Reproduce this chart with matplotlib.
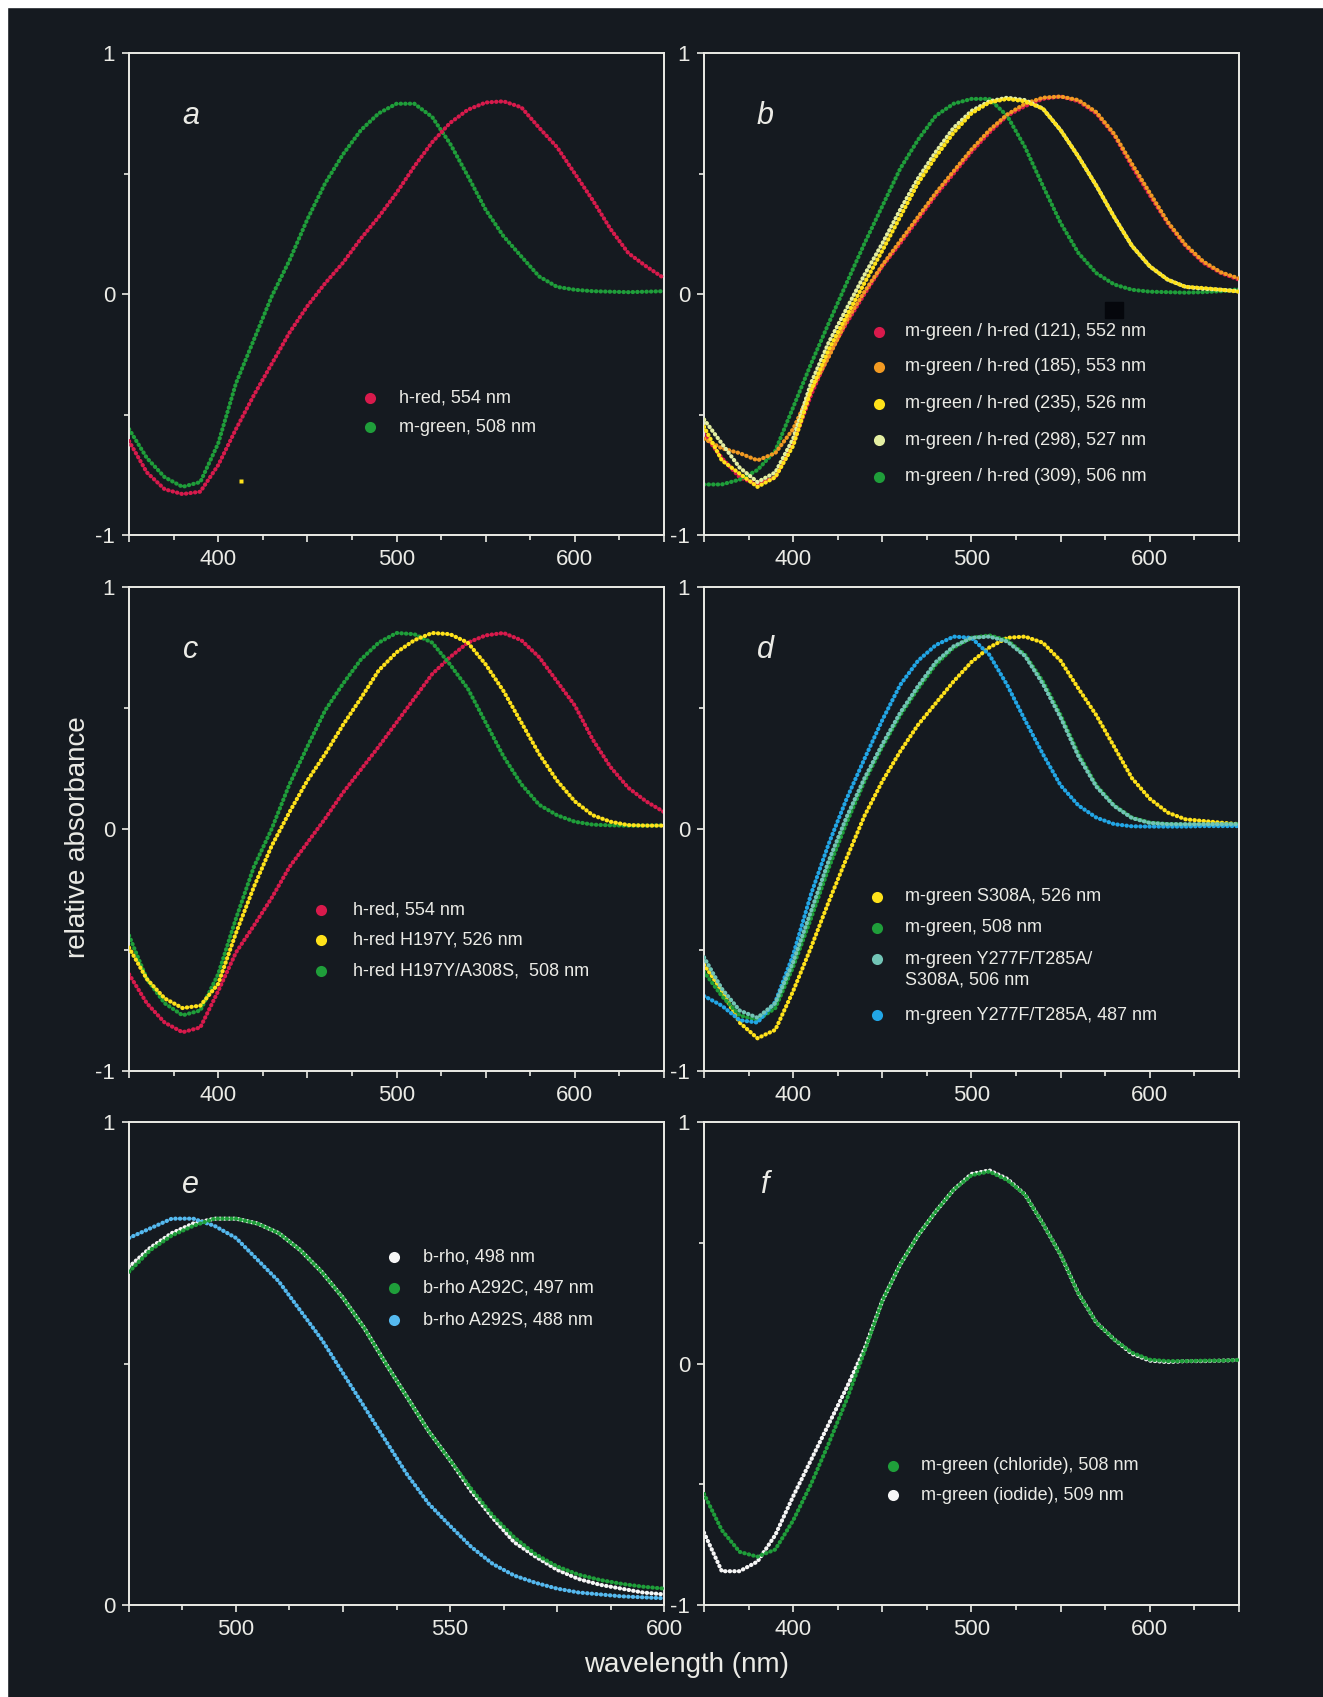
import numpy as np
import matplotlib.pyplot as plt
from matplotlib.patches import Rectangle

plt.rcParams['font.family']=['Liberation Sans','DejaVu Sans']

# wavelength grids (nm)
wl=np.arange(350,651,10)
wl_e=np.arange(475,601,5)

# panel a
a_hred=[-0.61,-0.74,-0.81,-0.83,-0.82,-0.71,-0.56,-0.42,-0.29,-0.16,-0.05,0.045,0.13,0.23,0.32,0.42,0.53,0.63,0.71,0.765,0.795,0.80,0.775,0.69,0.61,0.50,0.39,0.27,0.17,0.115,0.066]
a_mgreen=[-0.56,-0.68,-0.76,-0.80,-0.78,-0.62,-0.37,-0.19,-0.01,0.14,0.31,0.46,0.58,0.68,0.75,0.79,0.79,0.735,0.625,0.49,0.35,0.24,0.156,0.073,0.03,0.018,0.012,0.01,0.008,0.01,0.012]

# panel b
b_121=[-0.58,-0.68,-0.76,-0.79,-0.76,-0.62,-0.42,-0.25,-0.12,0.0,0.115,0.21,0.31,0.41,0.50,0.59,0.67,0.74,0.78,0.81,0.82,0.80,0.75,0.66,0.53,0.41,0.295,0.20,0.13,0.087,0.06]
b_185=[-0.60,-0.64,-0.66,-0.69,-0.66,-0.56,-0.40,-0.26,-0.11,0.01,0.12,0.22,0.32,0.42,0.51,0.60,0.68,0.745,0.79,0.815,0.82,0.805,0.755,0.665,0.54,0.42,0.30,0.205,0.135,0.09,0.065]
b_235=[-0.55,-0.69,-0.745,-0.80,-0.76,-0.63,-0.40,-0.23,-0.09,0.046,0.18,0.32,0.46,0.57,0.67,0.75,0.795,0.81,0.80,0.77,0.68,0.57,0.45,0.32,0.20,0.115,0.06,0.03,0.025,0.018,0.01]
b_298=[-0.52,-0.62,-0.72,-0.78,-0.74,-0.60,-0.37,-0.20,-0.06,0.08,0.21,0.35,0.48,0.59,0.69,0.76,0.80,0.815,0.805,0.77,0.68,0.57,0.45,0.32,0.20,0.115,0.06,0.03,0.022,0.018,0.012]
b_309=[-0.79,-0.79,-0.77,-0.73,-0.65,-0.47,-0.29,-0.12,0.046,0.21,0.365,0.52,0.64,0.74,0.79,0.81,0.81,0.74,0.61,0.45,0.295,0.17,0.087,0.04,0.018,0.01,0.008,0.006,0.008,0.012,0.02]

# panel c
c_hred=[-0.60,-0.72,-0.80,-0.84,-0.82,-0.67,-0.51,-0.40,-0.285,-0.157,-0.057,0.043,0.15,0.245,0.34,0.44,0.54,0.64,0.71,0.77,0.80,0.81,0.78,0.71,0.61,0.51,0.37,0.256,0.17,0.114,0.07]
c_h197y=[-0.49,-0.62,-0.70,-0.74,-0.73,-0.64,-0.43,-0.24,-0.07,0.07,0.20,0.31,0.43,0.54,0.655,0.73,0.78,0.81,0.805,0.77,0.68,0.57,0.44,0.31,0.20,0.114,0.057,0.03,0.016,0.014,0.014]
c_a308s=[-0.44,-0.62,-0.72,-0.77,-0.75,-0.60,-0.37,-0.157,0.0,0.185,0.34,0.49,0.60,0.70,0.77,0.81,0.805,0.77,0.68,0.58,0.44,0.30,0.185,0.10,0.057,0.03,0.018,0.015,0.014,0.014,0.015]

# panel d
d_s308a=[-0.56,-0.67,-0.80,-0.865,-0.83,-0.67,-0.49,-0.30,-0.12,0.054,0.197,0.32,0.43,0.52,0.61,0.69,0.75,0.79,0.795,0.77,0.695,0.58,0.47,0.34,0.21,0.125,0.068,0.04,0.033,0.026,0.02]
d_mgreen=[-0.59,-0.69,-0.77,-0.79,-0.74,-0.57,-0.37,-0.16,0.026,0.197,0.34,0.47,0.58,0.68,0.75,0.79,0.80,0.78,0.72,0.61,0.47,0.31,0.18,0.097,0.047,0.026,0.02,0.018,0.018,0.018,0.02]
d_triple=[-0.53,-0.66,-0.75,-0.78,-0.72,-0.55,-0.34,-0.13,0.05,0.21,0.35,0.48,0.59,0.69,0.755,0.79,0.795,0.775,0.715,0.60,0.46,0.30,0.175,0.095,0.045,0.025,0.02,0.02,0.02,0.02,0.02]
d_double=[-0.69,-0.73,-0.79,-0.80,-0.715,-0.52,-0.27,-0.06,0.125,0.29,0.45,0.595,0.695,0.76,0.795,0.79,0.72,0.595,0.45,0.31,0.18,0.097,0.047,0.02,0.011,0.01,0.01,0.01,0.012,0.012,0.012]

# panel e
e_brho=[0.70,0.74,0.77,0.79,0.80,0.80,0.79,0.77,0.735,0.69,0.636,0.573,0.50,0.43,0.36,0.30,0.235,0.18,0.13,0.10,0.073,0.054,0.042,0.034,0.026,0.022]
e_a292c=[0.69,0.735,0.765,0.785,0.80,0.80,0.79,0.77,0.735,0.69,0.636,0.573,0.50,0.43,0.36,0.30,0.24,0.185,0.14,0.105,0.08,0.063,0.052,0.044,0.038,0.034]
e_a292s=[0.76,0.78,0.80,0.80,0.785,0.76,0.715,0.67,0.61,0.55,0.48,0.41,0.34,0.27,0.21,0.164,0.12,0.085,0.061,0.046,0.034,0.026,0.022,0.018,0.016,0.014]

# panel f
f_chloride=[-0.54,-0.69,-0.78,-0.80,-0.77,-0.65,-0.50,-0.33,-0.15,0.05,0.26,0.41,0.53,0.63,0.72,0.78,0.795,0.76,0.70,0.58,0.45,0.29,0.17,0.10,0.045,0.016,0.01,0.01,0.012,0.012,0.015]
f_iodide=[-0.70,-0.86,-0.86,-0.82,-0.71,-0.55,-0.40,-0.25,-0.10,0.06,0.26,0.41,0.53,0.63,0.72,0.785,0.80,0.765,0.70,0.58,0.45,0.29,0.17,0.10,0.04,0.012,0.006,0.01,0.01,0.012,0.015]

RED='#d81a4c'
GREEN='#1f9e3a'
YELLOW='#ffe21a'
ORANGE='#f29a22'
PALE='#e4efa2'
TEAL='#72c4b6'
BLUE='#22a6e6'
LBLUE='#55b9ef'
WHITE='#f6f6f6'
BG='#151a20'
FG='#ebebe6'

# (values, colour, label, zorder)
panels=[
    ('a',wl,[(a_hred,RED,'h-red, 554 nm',3),(a_mgreen,GREEN,'m-green, 508 nm',2)]),
    ('b',wl,[(b_121,RED,'m-green / h-red (121), 552 nm',2),(b_185,ORANGE,'m-green / h-red (185), 553 nm',3),
             (b_235,YELLOW,'m-green / h-red (235), 526 nm',4),(b_298,PALE,'m-green / h-red (298), 527 nm',3),
             (b_309,GREEN,'m-green / h-red (309), 506 nm',2)]),
    ('c',wl,[(c_hred,RED,'h-red, 554 nm',2),(c_h197y,YELLOW,'h-red H197Y, 526 nm',3),(c_a308s,GREEN,'h-red H197Y/A308S,  508 nm',2)]),
    ('d',wl,[(d_s308a,YELLOW,'m-green S308A, 526 nm',2),(d_mgreen,GREEN,'m-green, 508 nm',2),
             (d_triple,TEAL,'m-green Y277F/T285A/\nS308A, 506 nm',3),(d_double,BLUE,'m-green Y277F/T285A, 487 nm',2)]),
    ('e',wl_e,[(e_brho,WHITE,'b-rho, 498 nm',2),(e_a292c,GREEN,'b-rho A292C, 497 nm',3),(e_a292s,LBLUE,'b-rho A292S, 488 nm',2)]),
    ('f',wl,[(f_chloride,GREEN,'m-green (chloride), 508 nm',3),(f_iodide,WHITE,'m-green (iodide), 509 nm',2)]),
]

# legend anchor (marker x, text x, row y's) in axes fraction
legend_pos={
    'a':(0.450,0.505,[0.284,0.224]),
    'b':(0.327,0.376,[0.422,0.349,0.272,0.197,0.121]),
    'c':(0.358,0.419,[0.333,0.270,0.207]),
    'd':(0.324,0.376,[0.360,0.296,0.231,0.115]),
    'e':(0.496,0.549,[0.720,0.656,0.590]),
    'f':(0.354,0.406,[0.288,0.227]),
}

boxes={
    'a':[0.0975,0.6847,0.4044,0.2840],
    'b':[0.5321,0.6847,0.4044,0.2840],
    'c':[0.0975,0.3689,0.4044,0.2852],
    'd':[0.5321,0.3689,0.4044,0.2852],
    'e':[0.0975,0.0542,0.4044,0.2846],
    'f':[0.5321,0.0542,0.4044,0.2846],
}

xticks=[350,400,450,500,550,600,650]
xticklabels=['','400','','500','','600','']
xticks_e=[475,500,525,550,575,600]
xticklabels_e=['','500','','550','','600']

fig=plt.figure(figsize=(13.23,16.97),dpi=100,facecolor=BG)

for name,x,series in panels:
    ax=fig.add_axes(boxes[name])
    ax.set_facecolor(BG)
    for vals,col,lab,z in series:
        ax.plot(x,vals,color=col,lw=3.0,ls=(0,(0.1,1.0)),dash_capstyle='round',zorder=z)
    if name=='e':
        ax.set_xlim(475,600)
        ax.set_ylim(0,1)
        ax.set_xticks(xticks_e)
        ax.set_xticklabels(xticklabels_e)
        ax.set_xticks(np.arange(475,601,12.5),minor=True)
        ax.set_yticks([0,1])
        ax.set_yticklabels(['0','1'])
        ax.set_yticks([0.5],minor=True)
    else:
        ax.set_xlim(350,650)
        ax.set_ylim(-1,1)
        ax.set_xticks(xticks)
        ax.set_xticklabels(xticklabels)
        ax.set_xticks(np.arange(350,651,25),minor=True)
        ax.set_yticks([-1,0,1])
        ax.set_yticklabels(['-1','0','1'])
        ax.set_yticks([-0.5,0.5],minor=True)
    for s in ax.spines.values():
        s.set_color(FG)
        s.set_linewidth(1.4)
    ax.tick_params(which='major',direction='out',length=5,width=1.2,color=FG,labelcolor=FG,labelsize=16,pad=5)
    ax.tick_params(which='minor',direction='out',length=3.5,width=1.2,color=FG)
    ax.text(0.115,0.87,name,transform=ax.transAxes,color=FG,fontsize=22,style='italic',ha='center',va='center')

    mx,tx,ys=legend_pos[name]
    for (vals,col,lab,z),yy in zip(series,ys):
        ax.plot([mx],[yy],'o',color=col,ms=8,mec='none',transform=ax.transAxes)
        lines=lab.split('\n')
        for k,line in enumerate(lines):
            ax.text(tx,yy-0.044*k,line,transform=ax.transAxes,color=FG,fontsize=13,va='center',ha='left')

    if name=='a':
        ax.plot([413],[-0.775],'s',color=YELLOW,ms=2.5,mec='none')
    if name=='b':
        ax.add_patch(Rectangle((0.75,0.451),0.034,0.033,transform=ax.transAxes,color='#05070c',zorder=5))

fig.text(78/1323,1-837/1697,'relative absorbance',rotation=90,color=FG,fontsize=20,ha='center',va='center')
fig.text(687/1323,1-1665/1697,'wavelength (nm)',color=FG,fontsize=20,ha='center',va='center')

# scan border
fig.add_artist(Rectangle((0,1-7/1697),1,7/1697,transform=fig.transFigure,color='white'))
fig.add_artist(Rectangle((0,0),7/1323,1,transform=fig.transFigure,color='white'))

plt.savefig('out.png',dpi=100,facecolor=BG)
